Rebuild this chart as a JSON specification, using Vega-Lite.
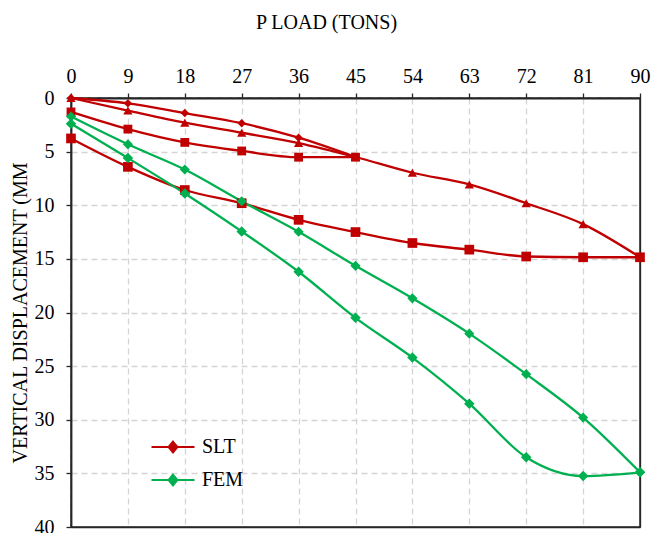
{
  "$schema": "https://vega.github.io/schema/vega-lite/v6.json",
  "width": 569,
  "height": 429,
  "autosize": {"type": "none"},
  "padding": {"left": 71, "top": 98, "right": 11, "bottom": 6},
  "background": "white",
  "config": {
    "font": "Times New Roman, Liberation Serif, serif",
    "view": {"stroke": "#262626", "strokeWidth": 1.5},
    "axis": {
      "labelFont": "Times New Roman, Liberation Serif, serif",
      "titleFont": "Times New Roman, Liberation Serif, serif",
      "labelFontSize": 20,
      "titleFontSize": 20,
      "labelColor": "#000",
      "titleColor": "#000",
      "titleFontWeight": "normal",
      "domainColor": "#262626",
      "domainWidth": 1.8,
      "tickColor": "#262626",
      "tickWidth": 1.3,
      "tickSize": 5,
      "gridWidth": 1.3
    }
  },
  "data": {
    "values": [
      {"test": "SLT", "curve": "SLT loading 1", "load": 0, "disp": 0},
      {"test": "SLT", "curve": "SLT loading 1", "load": 9, "disp": 0.5},
      {"test": "SLT", "curve": "SLT loading 1", "load": 18, "disp": 1.4},
      {"test": "SLT", "curve": "SLT loading 1", "load": 27, "disp": 2.35},
      {"test": "SLT", "curve": "SLT loading 1", "load": 36, "disp": 3.7},
      {"test": "SLT", "curve": "SLT loading 1", "load": 45, "disp": 5.5},
      {"test": "SLT", "curve": "SLT unloading 1", "load": 0, "disp": 1.3},
      {"test": "SLT", "curve": "SLT unloading 1", "load": 9, "disp": 2.9},
      {"test": "SLT", "curve": "SLT unloading 1", "load": 18, "disp": 4.14},
      {"test": "SLT", "curve": "SLT unloading 1", "load": 27, "disp": 4.94},
      {"test": "SLT", "curve": "SLT unloading 1", "load": 36, "disp": 5.52},
      {"test": "SLT", "curve": "SLT unloading 1", "load": 45, "disp": 5.52},
      {"test": "SLT", "curve": "SLT reloading", "load": 0, "disp": 0},
      {"test": "SLT", "curve": "SLT reloading", "load": 9, "disp": 1.17},
      {"test": "SLT", "curve": "SLT reloading", "load": 18, "disp": 2.3},
      {"test": "SLT", "curve": "SLT reloading", "load": 27, "disp": 3.24},
      {"test": "SLT", "curve": "SLT reloading", "load": 36, "disp": 4.2},
      {"test": "SLT", "curve": "SLT reloading", "load": 45, "disp": 5.5},
      {"test": "SLT", "curve": "SLT reloading", "load": 54, "disp": 6.97},
      {"test": "SLT", "curve": "SLT reloading", "load": 63, "disp": 8.06},
      {"test": "SLT", "curve": "SLT reloading", "load": 72, "disp": 9.81},
      {"test": "SLT", "curve": "SLT reloading", "load": 81, "disp": 11.76},
      {"test": "SLT", "curve": "SLT reloading", "load": 90, "disp": 14.85},
      {"test": "SLT", "curve": "SLT unloading 2", "load": 0, "disp": 3.77},
      {"test": "SLT", "curve": "SLT unloading 2", "load": 9, "disp": 6.42},
      {"test": "SLT", "curve": "SLT unloading 2", "load": 18, "disp": 8.58},
      {"test": "SLT", "curve": "SLT unloading 2", "load": 27, "disp": 9.81},
      {"test": "SLT", "curve": "SLT unloading 2", "load": 36, "disp": 11.36},
      {"test": "SLT", "curve": "SLT unloading 2", "load": 45, "disp": 12.5},
      {"test": "SLT", "curve": "SLT unloading 2", "load": 54, "disp": 13.52},
      {"test": "SLT", "curve": "SLT unloading 2", "load": 63, "disp": 14.14},
      {"test": "SLT", "curve": "SLT unloading 2", "load": 72, "disp": 14.78},
      {"test": "SLT", "curve": "SLT unloading 2", "load": 81, "disp": 14.85},
      {"test": "SLT", "curve": "SLT unloading 2", "load": 90, "disp": 14.85},
      {"test": "FEM", "curve": "FEM upper", "load": 0, "disp": 1.73},
      {"test": "FEM", "curve": "FEM upper", "load": 9, "disp": 4.32},
      {"test": "FEM", "curve": "FEM upper", "load": 18, "disp": 6.67},
      {"test": "FEM", "curve": "FEM upper", "load": 27, "disp": 9.63},
      {"test": "FEM", "curve": "FEM upper", "load": 36, "disp": 12.47},
      {"test": "FEM", "curve": "FEM upper", "load": 45, "disp": 15.65},
      {"test": "FEM", "curve": "FEM upper", "load": 54, "disp": 18.68},
      {"test": "FEM", "curve": "FEM upper", "load": 63, "disp": 21.97},
      {"test": "FEM", "curve": "FEM upper", "load": 72, "disp": 25.75},
      {"test": "FEM", "curve": "FEM upper", "load": 81, "disp": 29.8},
      {"test": "FEM", "curve": "FEM upper", "load": 90, "disp": 34.9},
      {"test": "FEM", "curve": "FEM lower", "load": 0, "disp": 2.4},
      {"test": "FEM", "curve": "FEM lower", "load": 9, "disp": 5.6},
      {"test": "FEM", "curve": "FEM lower", "load": 18, "disp": 8.9},
      {"test": "FEM", "curve": "FEM lower", "load": 27, "disp": 12.44},
      {"test": "FEM", "curve": "FEM lower", "load": 36, "disp": 16.2},
      {"test": "FEM", "curve": "FEM lower", "load": 45, "disp": 20.5},
      {"test": "FEM", "curve": "FEM lower", "load": 54, "disp": 24.2},
      {"test": "FEM", "curve": "FEM lower", "load": 63, "disp": 28.5},
      {"test": "FEM", "curve": "FEM lower", "load": 72, "disp": 33.5},
      {"test": "FEM", "curve": "FEM lower", "load": 81, "disp": 35.25},
      {"test": "FEM", "curve": "FEM lower", "load": 90, "disp": 34.9}
    ]
  },
  "encoding": {
    "x": {
      "field": "load",
      "type": "quantitative",
      "scale": {"domain": [0, 90], "nice": false, "zero": false},
      "axis": {
        "orient": "top",
        "title": "P LOAD (TONS)",
        "values": [0, 9, 18, 27, 36, 45, 54, 63, 72, 81, 90],
        "labelBaseline": "alphabetic",
        "labelPadding": 11,
        "labelFlush": false,
        "gridColor": {"condition": {"test": "datum.value === 90", "value": "#262626"}, "value": "#d4d4d4"},
        "gridDash": {"condition": {"test": "datum.value === 90", "value": []}, "value": [6, 4]},
        "titleX": 255,
        "titleY": -70,
        "titleBaseline": "alphabetic",
        "titleAnchor": "middle",
        "titleAlign": "center"
      }
    },
    "y": {
      "field": "disp",
      "type": "quantitative",
      "scale": {"domain": [0, 40], "nice": false, "zero": false, "reverse": true},
      "axis": {
        "title": "VERTICAL DISPLACEMENT (MM",
        "values": [0, 5, 10, 15, 20, 25, 30, 35, 40],
        "labelPadding": 12,
        "labelFlush": false,
        "gridColor": {"condition": {"test": "datum.value === 40", "value": "#262626"}, "value": "#d4d4d4"},
        "gridDash": {"condition": {"test": "datum.value === 40", "value": []}, "value": [6, 4]},
        "titleX": -51,
        "titleBaseline": "middle"
      }
    },
    "color": {
      "field": "test",
      "type": "nominal",
      "scale": {"domain": ["SLT", "FEM"], "range": ["#C00000", "#00B050"]},
      "legend": {
        "title": null,
        "orient": "none",
        "legendX": 79,
        "legendY": 326,
        "padding": 0,
        "rowPadding": 0,
        "symbolType": "M-1,0H1M0,-0.24L0.2,0L0,0.24L-0.2,0Z",
        "symbolSize": 1849,
        "symbolStrokeWidth": 2.2,
        "symbolOpacity": 1,
        "labelFont": "Times New Roman, Liberation Serif, serif",
        "labelFontSize": 20,
        "labelColor": "#000",
        "labelOffset": 6,
        "encode": {
          "symbols": {
            "update": {
              "fill": {"scale": "color", "field": "value"},
              "stroke": {"scale": "color", "field": "value"},
              "opacity": {"value": 1}
            }
          }
        }
      }
    }
  },
  "layer": [
    {
      "mark": {"type": "line", "interpolate": "monotone", "strokeWidth": 2.3},
      "encoding": {"detail": {"field": "curve", "type": "nominal"}}
    },
    {
      "mark": {"type": "point", "filled": true, "opacity": 1},
      "encoding": {
        "shape": {
          "field": "curve",
          "type": "nominal",
          "scale": {
            "domain": ["SLT loading 1", "SLT unloading 1", "SLT reloading", "SLT unloading 2", "FEM upper", "FEM lower"],
            "range": ["diamond", "square", "triangle-up", "square", "diamond", "diamond"]
          },
          "legend": null
        },
        "size": {
          "field": "curve",
          "type": "nominal",
          "scale": {
            "domain": ["SLT loading 1", "SLT unloading 1", "SLT reloading", "SLT unloading 2", "FEM upper", "FEM lower"],
            "range": [70, 110, 90, 110, 70, 70]
          },
          "legend": null
        }
      }
    }
  ]
}
